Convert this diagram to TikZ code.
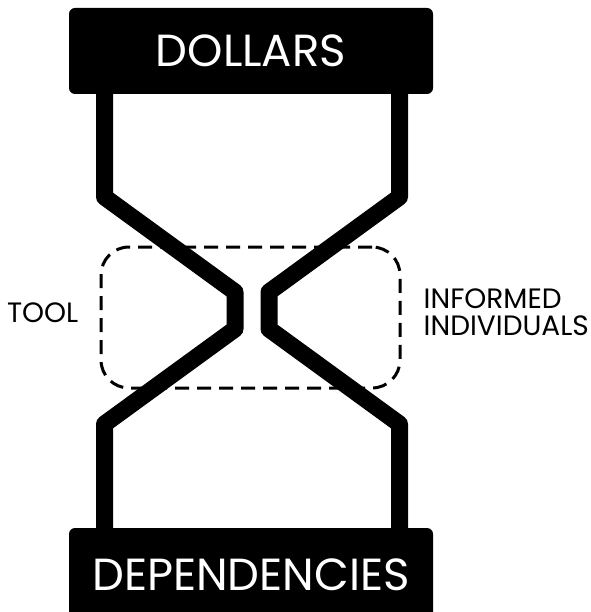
\documentclass[tikz,border=0pt]{standalone}
\usepackage{fontspec}
\setmainfont{Poppins}
\usepackage{tikz}
\usetikzlibrary{positioning}
\tikzstyle{banner} = [rectangle, fill=black, text=white, rounded corners=6pt,
minimum width=364pt, inner sep=0pt]
\tikzstyle{leg} = [draw, line width=17pt, line join=round]
\tikzstyle{frame} = [rectangle, draw, dash pattern=on 14pt off 8pt, line width=3pt,
rounded corners=28pt, minimum width=299pt, minimum height=141pt, inner sep=0pt]
\tikzstyle{side} = [inner sep=0pt, font=\fontsize{28}{27}\selectfont]

\begin{document}
\begin{tikzpicture}[x=1pt, y=-1pt]
\useasboundingbox (0,0) rectangle (590,612);
    % nodes
\node [banner, minimum height=86pt, font=\fontsize{45}{45}\selectfont] (dollars) at (251,51) {DOLLARS};
\node [banner, minimum height=94pt, font=\fontsize{45}{45}\selectfont] (deps) at (251,575) {DEPENDENCIES};
\node [frame] (tool) at (250.5,317.5) {};
\node [side, left=21pt of tool, yshift=5pt] (toollbl) {TOOL};
\node [side, right=22pt of tool, yshift=5pt, align=left] (infolbl) {INFORMED\\INDIVIDUALS};

\coordinate (lup) at (104.5,197);
\coordinate (lneckup) at (235,292);
\coordinate (lnecklow) at (235,329);
\coordinate (llow) at (104.5,424);
\coordinate (rup) at (399.5,197);
\coordinate (rneckup) at (269,292);
\coordinate (rnecklow) at (269,329);
\coordinate (rlow) at (399.5,424);

%edges
\path [leg] (dollars.south -| lup) -- (lup) -- (lneckup) -- (lnecklow) -- (llow) -- (deps.north -| llow);
\path [leg] (dollars.south -| rup) -- (rup) -- (rneckup) -- (rnecklow) -- (rlow) -- (deps.north -| rlow);

\end{tikzpicture}
\end{document}
